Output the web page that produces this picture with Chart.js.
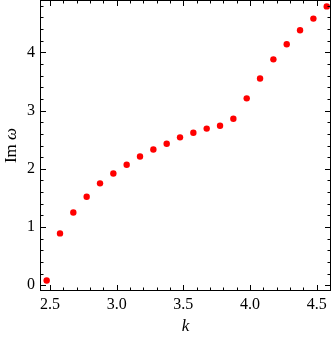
<!DOCTYPE html>
<html>
<head>
<meta charset="utf-8">
<script src="https://cdn.jsdelivr.net/npm/chart.js@4"></script>
<style>
  html, body { margin: 0; padding: 0; background: #fff; }
</style>
</head>
<body>
<canvas id="chart" width="333" height="343"></canvas>
<script>
// Data
const kValues = [2.475, 2.575, 2.675, 2.775, 2.875, 2.975, 3.075, 3.175, 3.275, 3.375, 3.475,
                 3.575, 3.675, 3.775, 3.875, 3.975, 4.075, 4.175, 4.275, 4.375, 4.475, 4.575];
const imOmega = [0.08, 0.89, 1.25, 1.52, 1.75, 1.92, 2.07, 2.21, 2.33, 2.43, 2.54,
                 2.62, 2.69, 2.74, 2.86, 3.21, 3.55, 3.88, 4.14, 4.38, 4.58, 4.79];
const xTicks = [2.5, 3.0, 3.5, 4.0, 4.5];
const yTicks = [0, 1, 2, 3, 4];

const serif = "'Liberation Serif', 'DejaVu Serif', serif";

// minor tick positions
const xMinor = [];
for (let v = 2.5; v <= 4.6; v += 0.1) xMinor.push(Math.round(v * 10) / 10);
const yMinor = [];
for (let v = 0; v <= 4.81; v += 0.2) yMinor.push(Math.round(v * 10) / 10);

// Mathematica-like frame with inward ticks, plus axis labels
const framePlugin = {
    id: 'frame',
    afterDraw(chart) {
        const ctx = chart.ctx;
        const a = chart.chartArea;
        const xs = chart.scales.x;
        const ys = chart.scales.y;
        ctx.save();
        ctx.strokeStyle = '#000';
        ctx.lineWidth = 1;
        ctx.strokeRect(a.left + 0.5, a.top + 0.5, a.right - a.left - 1, a.bottom - a.top - 1);

        ctx.beginPath();
        const tick = (vals, len) => {
            vals.forEach(v => {
                const px = Math.round(xs.getPixelForValue(v)) + 0.5;
                if (px < a.left || px > a.right) return;
                ctx.moveTo(px, a.bottom); ctx.lineTo(px, a.bottom - len);
                ctx.moveTo(px, a.top); ctx.lineTo(px, a.top + len);
            });
        };
        const ytick = (vals, len) => {
            vals.forEach(v => {
                const py = Math.round(ys.getPixelForValue(v)) + 0.5;
                if (py < a.top || py > a.bottom) return;
                ctx.moveTo(a.left, py); ctx.lineTo(a.left + len, py);
                ctx.moveTo(a.right, py); ctx.lineTo(a.right - len, py);
            });
        };
        tick(xMinor, 3.5);
        tick(xTicks, 6);
        ytick(yMinor, 3.5);
        ytick(yTicks, 6);
        ctx.stroke();

        // x axis label
        ctx.fillStyle = '#000';
        ctx.textAlign = 'center';
        ctx.textBaseline = 'middle';
        ctx.font = 'italic 17px ' + serif;
        ctx.fillText('k', (a.left + a.right) / 2, 327);

        // y axis label: "Im" roman + "ω" italic
        ctx.translate(12, (a.top + a.bottom) / 2);
        ctx.rotate(-Math.PI / 2);
        ctx.textAlign = 'left';
        ctx.font = '17px ' + serif;
        const w1 = ctx.measureText('Im ').width;
        ctx.font = 'italic 17px ' + serif;
        const w2 = ctx.measureText('ω').width;
        const start = -(w1 + w2) / 2;
        ctx.font = '17px ' + serif;
        ctx.fillText('Im ', start, 0);
        ctx.font = 'italic 17px ' + serif;
        ctx.fillText('ω', start + w1, 0);
        ctx.restore();
    }
};

new Chart(document.getElementById('chart'), {
    type: 'scatter',
    data: {
        datasets: [{
            data: kValues.map((k, i) => ({ x: k, y: imOmega[i] })),
            backgroundColor: '#ff0000',
            borderWidth: 0,
            pointRadius: 3.2
        }]
    },
    options: {
        responsive: false,
        animation: false,
        layout: { autoPadding: false, padding: { top: 0, right: 2, left: 0, bottom: 0 } },
        plugins: {
            legend: { display: false },
            tooltip: { enabled: false }
        },
        scales: {
            x: {
                type: 'linear',
                min: 2.425,
                max: 4.607,
                grid: { display: false, drawTicks: false },
                border: { display: false },
                afterBuildTicks(scale) { scale.ticks = xTicks.map(v => ({ value: v })); },
                afterFit(scale) {
                    scale.height = 52;
                    scale.paddingLeft = 0;
                    scale.paddingRight = 0;
                },
                ticks: {
                    padding: 4,
                    color: '#000',
                    font: { family: serif, size: 16 },
                    maxRotation: 0,
                    callback: v => v.toFixed(1)
                }
            },
            y: {
                type: 'linear',
                min: -0.1,
                max: 4.9,
                grid: { display: false, drawTicks: false },
                border: { display: false },
                afterBuildTicks(scale) { scale.ticks = yTicks.map(v => ({ value: v })); },
                afterFit(scale) {
                    scale.width = 40;
                    scale.paddingTop = 0;
                    scale.paddingBottom = 0;
                },
                ticks: {
                    padding: 5,
                    color: '#000',
                    font: { family: serif, size: 16 },
                    callback: v => String(v)
                }
            }
        }
    },
    plugins: [framePlugin]
});
</script>
</body>
</html>
